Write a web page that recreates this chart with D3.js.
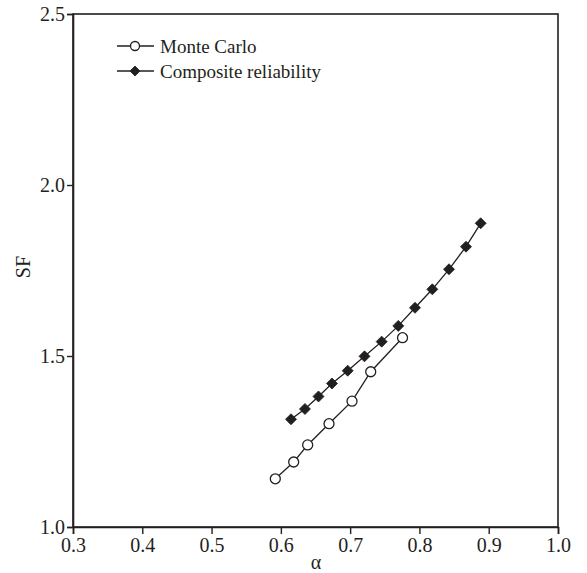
<!DOCTYPE html>
<html>
<head>
<meta charset="utf-8">
<script src="https://cdn.jsdelivr.net/npm/d3@7"></script>
<style>
  body { margin: 0; background: #fff; }
  svg { display: block; }
  text { font-family: "Liberation Serif", "DejaVu Serif", serif; fill: #231f20; }
</style>
</head>
<body>
<svg id="chart" width="587" height="573"></svg>
<script>
// Data
const mcAlpha = [0.592, 0.6185, 0.6387, 0.6695, 0.7027, 0.7297, 0.7756];
const mcSF    = [1.141, 1.190, 1.240, 1.302, 1.368, 1.454, 1.5535];
const crAlpha = [0.6146, 0.6348, 0.6543, 0.6738, 0.6965, 0.7207, 0.7455, 0.7695, 0.7936, 0.8186, 0.8427, 0.8672, 0.8884];
const crSF    = [1.315, 1.345, 1.3816, 1.4196, 1.457, 1.499, 1.542, 1.588, 1.641, 1.695, 1.7535, 1.8196, 1.888];
const xTicks = [0.3, 0.4, 0.5, 0.6, 0.7, 0.8, 0.9, 1.0];
const yTicks = [1.0, 1.5, 2.0, 2.5];
const seriesNames = ["Monte Carlo", "Composite reliability"];

(function () {
const svg = d3.select("#chart");
const mLeft = 73, mRight = 558, mTop = 14, mBottom = 527;
const x = d3.scaleLinear().domain([0.3, 1.0]).range([mLeft, mRight]);
const y = d3.scaleLinear().domain([1.0, 2.5]).range([mBottom, mTop]);
const ink = "#231f20";

// frame
svg.append("rect").attr("x", mLeft).attr("y", mTop)
  .attr("width", mRight - mLeft).attr("height", mBottom - mTop)
  .attr("fill", "none").attr("stroke", ink).attr("stroke-width", 1.6);

// axes
const xAxis = svg.append("g").attr("transform", `translate(0,${mBottom})`)
  .call(d3.axisBottom(x).tickValues(xTicks).tickFormat(d3.format(".1f")).tickSize(7).tickPadding(4));
const yAxis = svg.append("g").attr("transform", `translate(${mLeft},0)`)
  .call(d3.axisLeft(y).tickValues(yTicks).tickFormat(d3.format(".1f")).tickSize(6).tickPadding(2));
[xAxis, yAxis].forEach(g => {
  g.select(".domain").attr("stroke", ink).attr("stroke-width", 1.6);
  g.selectAll(".tick line").attr("stroke", ink).attr("stroke-width", 1.4);
  g.selectAll(".tick text").attr("font-family", '"Liberation Serif", serif')
    .attr("font-size", 20).attr("fill", ink);
});

// axis titles
svg.append("text").attr("x", 316).attr("y", 569).attr("text-anchor", "middle")
  .attr("font-size", 20).text("α");
svg.append("text").attr("transform", "translate(30,267) rotate(-90)")
  .attr("text-anchor", "middle").attr("font-size", 20).text("SF");

const line = d3.line().x(d => x(d[0])).y(d => y(d[1]));
const mc = mcAlpha.map((a, i) => [a, mcSF[i]]);
const cr = crAlpha.map((a, i) => [a, crSF[i]]);

svg.append("path").datum(mc).attr("d", line).attr("fill", "none").attr("stroke", ink).attr("stroke-width", 1.3);
svg.append("path").datum(cr).attr("d", line).attr("fill", "none").attr("stroke", ink).attr("stroke-width", 1.3);

function drawDiamond(g, cx, cy, s) {
  g.append("path").attr("d", `M${cx},${cy - s}L${cx + s},${cy}L${cx},${cy + s}L${cx - s},${cy}Z`)
    .attr("fill", ink).attr("stroke", ink).attr("stroke-width", 0.8);
}

svg.append("g").selectAll("circle").data(mc).join("circle")
  .attr("cx", d => x(d[0])).attr("cy", d => y(d[1])).attr("r", 5)
  .attr("fill", "#fff").attr("stroke", ink).attr("stroke-width", 1.3);
const dg = svg.append("g");
cr.forEach(d => drawDiamond(dg, x(d[0]), y(d[1]), 5.5));

// legend
const lg = svg.append("g");
const rows = [46, 71];
rows.forEach((ry, i) => {
  lg.append("line").attr("x1", 117).attr("x2", 154).attr("y1", ry).attr("y2", ry)
    .attr("stroke", ink).attr("stroke-width", 1.3);
  if (i === 0) {
    lg.append("circle").attr("cx", 135).attr("cy", ry).attr("r", 4.5)
      .attr("fill", "#fff").attr("stroke", ink).attr("stroke-width", 1.3);
  } else {
    drawDiamond(lg, 135, ry, 5);
  }
  lg.append("text").attr("x", 160).attr("y", ry + 7).attr("font-size", 19).text(seriesNames[i]);
});
})();
</script>
</body>
</html>
